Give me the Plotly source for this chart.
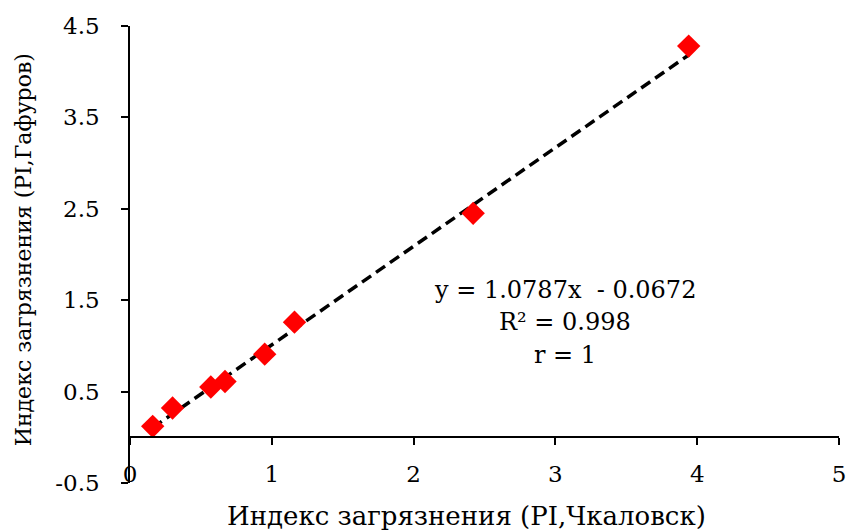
import plotly.graph_objects as go

# Data
pi_chkalovsk = [0.16, 0.30, 0.57, 0.67, 0.95, 1.16, 2.42, 3.94]
pi_gafurov = [0.12, 0.32, 0.55, 0.61, 0.91, 1.26, 2.45, 4.28]

slope = 1.0787
intercept = -0.0672
r2_text = "R² = 0.998"
r_text = "r = 1"
eq_text = "y = 1.0787x  - 0.0672"

x_ticks = [0, 1, 2, 3, 4, 5]
y_ticks = [-0.5, 0.5, 1.5, 2.5, 3.5, 4.5]
y_ticktext = ["-0.5", "0.5", "1.5", "2.5", "3.5", "4.5"]

x_title = "Индекс загрязнения (PI,Чкаловск)"
y_title = "Индекс загрязнения (PI,Гафуров)"

FONT = "DejaVu Serif, serif"

x_min, x_max = min(pi_chkalovsk), max(pi_chkalovsk)
trend_x = [x_min, x_max]
trend_y = [slope * v + intercept for v in trend_x]

fig = go.Figure()
fig.add_trace(go.Scatter(
    x=trend_x, y=trend_y, mode="lines",
    line=dict(color="black", width=3.5, dash="11px,6px"),
    showlegend=False, hoverinfo="skip",
))
fig.add_trace(go.Scatter(
    x=pi_chkalovsk, y=pi_gafurov, mode="markers",
    marker=dict(symbol="diamond", size=18, color="#ff0000", line=dict(width=0)),
    showlegend=False,
))

fig.update_layout(
    width=847, height=531,
    margin=dict(l=130, r=8, t=26, b=48, autoexpand=False),
    paper_bgcolor="white", plot_bgcolor="white",
    font=dict(family=FONT, size=23, color="black"),
    xaxis=dict(
        range=[0, 5], tickvals=x_ticks, anchor="free", position=0.1,
        showline=True, linecolor="black", linewidth=1.5,
        ticks="outside", ticklen=7, tickwidth=1.5, tickcolor="black",
        ticklabelstandoff=9, automargin=False,
        showgrid=False, zeroline=False,
        tickfont=dict(family=FONT, size=23, color="black"),
    ),
    yaxis=dict(
        range=[-0.5, 4.5], tickvals=y_ticks, ticktext=y_ticktext,
        showline=True, linecolor="black", linewidth=1.5,
        ticks="outside", ticklen=7, tickwidth=1.5, tickcolor="black",
        ticklabelstandoff=17, automargin=False,
        showgrid=False, zeroline=False,
        tickfont=dict(family=FONT, size=23, color="black"),
    ),
    annotations=[
        dict(text=x_title, xref="paper", yref="paper", x=0.474, y=-0.072,
             xanchor="center", yanchor="middle", showarrow=False,
             font=dict(family=FONT, size=26, color="black")),
        dict(text=y_title, xref="paper", yref="paper", x=-0.149, y=0.51,
             xanchor="center", yanchor="middle", textangle=-90, showarrow=False,
             font=dict(family=FONT, size=22, color="black")),
        dict(text=eq_text, xref="x", yref="y", x=3.066, y=1.616,
             xanchor="center", yanchor="middle", showarrow=False,
             font=dict(family=FONT, size=24, color="black")),
        dict(text=r2_text, xref="x", yref="y", x=3.066, y=1.265,
             xanchor="center", yanchor="middle", showarrow=False,
             font=dict(family=FONT, size=24, color="black")),
        dict(text=r_text, xref="x", yref="y", x=3.066, y=0.905,
             xanchor="center", yanchor="middle", showarrow=False,
             font=dict(family=FONT, size=24, color="black")),
    ],
)

fig.write_html(
    "out.html",
    config={"displayModeBar": False},
    post_script="document.body.style.margin='0';document.body.style.padding='0';",
)
